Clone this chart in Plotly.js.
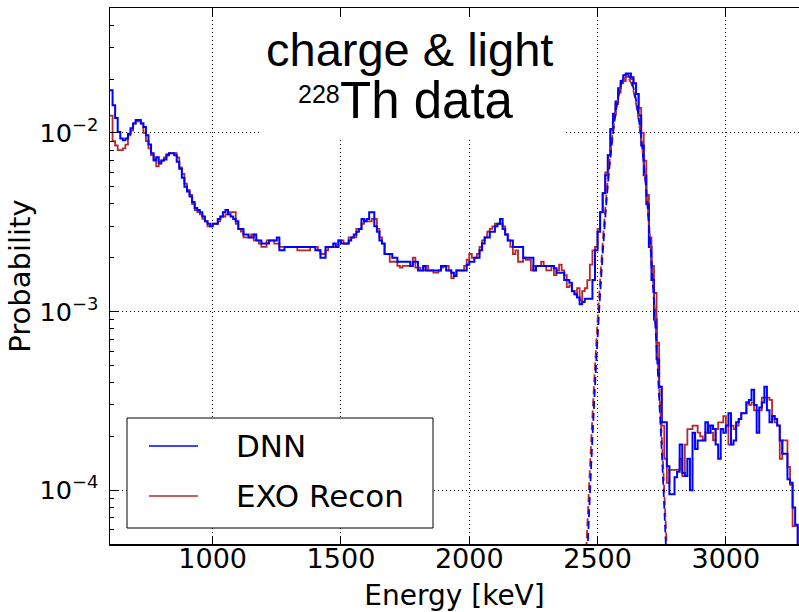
<!DOCTYPE html>
<html>
<head>
<meta charset="utf-8">
<script src="https://cdn.plot.ly/plotly-3.0.1.min.js"></script>
<style>
  html, body { margin: 0; padding: 0; background: #ffffff; }
  #chart { width: 799px; height: 612px; }
</style>
</head>
<body>
<div id="chart"></div>
<script>
// Energy histograms: 10 keV bins, first bin starts at 600 keV.
const BIN_START = 600;
const BIN_WIDTH = 10;

// DNN reconstruction, probability per bin (rows of 100 keV).
const dnnProb = [
  0.0173, 0.0143, 0.0121, 0.0101, 0.0093, 0.0091, 0.0093, 0.0099, 0.0106, 0.0113,
  0.0118, 0.0118, 0.0113, 0.0108, 0.0097, 0.0086, 0.0077, 0.0070, 0.0073, 0.0068,
  0.0070, 0.0071, 0.0075, 0.0077, 0.0077, 0.0075, 0.0069, 0.0063, 0.0056, 0.0050,
  0.0047, 0.0044, 0.0041, 0.0038, 0.0037, 0.0036, 0.0034, 0.0032, 0.0031, 0.0030,
  0.0031, 0.0031, 0.0033, 0.0034, 0.0036, 0.0037, 0.0035, 0.0034, 0.0033, 0.0032,
  0.0029, 0.0029, 0.0027, 0.0027, 0.0026, 0.0026, 0.0027, 0.0025, 0.0025, 0.0024,
  0.0024, 0.0024, 0.0025, 0.0025, 0.0025, 0.0026, 0.0022, 0.0022, 0.0023, 0.0023,
  0.0023, 0.0023, 0.0023, 0.0023, 0.0023, 0.0023, 0.0023, 0.0023, 0.0023, 0.0023,
  0.0022, 0.0022, 0.0020, 0.0020, 0.0023, 0.0023, 0.0023, 0.0024, 0.0023, 0.0025,
  0.0024, 0.0024, 0.0024, 0.0025, 0.0026, 0.0027, 0.0028, 0.0029, 0.0033, 0.0032,
  0.0033, 0.0036, 0.0036, 0.0030, 0.0028, 0.0025, 0.0024, 0.0021, 0.0021, 0.0021,
  0.0020, 0.0020, 0.0019, 0.0019, 0.0019, 0.0019, 0.0019, 0.0018, 0.0019, 0.0019,
  0.0017, 0.0017, 0.0018, 0.0017, 0.0017, 0.0017, 0.0017, 0.0017, 0.0017, 0.0018,
  0.0018, 0.0017, 0.0017, 0.00165, 0.00158, 0.0017, 0.0017, 0.0017, 0.0017, 0.00183,
  0.0019, 0.0019, 0.0020, 0.0020, 0.0022, 0.0024, 0.0026, 0.0026, 0.0028, 0.0028,
  0.0030, 0.0031, 0.0033, 0.0029, 0.0027, 0.0025, 0.0025, 0.0023, 0.0023, 0.0023,
  0.0023, 0.0020, 0.0020, 0.0020, 0.0020, 0.0017, 0.0018, 0.0018, 0.0018, 0.0018,
  0.0018, 0.0018, 0.0018, 0.00175, 0.00165, 0.00165, 0.00165, 0.0015, 0.0015, 0.00145,
  0.0013, 0.00125, 0.0012, 0.0011, 0.00113, 0.00118, 0.00118, 0.00118, 0.0015, 0.0022,
  0.0028, 0.0036, 0.0046, 0.0058, 0.0075, 0.0105, 0.0128, 0.0150, 0.0178, 0.0195,
  0.0210, 0.0215, 0.0215, 0.0205, 0.0189, 0.0165, 0.0125, 0.0085, 0.0058, 0.0040,
  0.0023, 0.0015, 0.0009, 0.00054, 0.00038, 0.00024, 0.00024, 0.000136, 0.000095, 0.000095,
  0.000118, 0.000127, 0.00018, 0.000125, 0.00012, 0.00015, 0.0001, 0.00021, 0.00017, 0.00019,
  0.00019, 0.00019, 0.00024, 0.00021, 0.00023, 0.00022, 0.00018, 0.00015, 0.00022, 0.00021,
  0.00023, 0.00027, 0.00018, 0.00019, 0.00024, 0.00025, 0.00027, 0.00027, 0.00031, 0.00032,
  0.000365, 0.0003, 0.00021, 0.00029, 0.00031, 0.00038, 0.00028, 0.00024, 0.00026, 0.00025,
  0.00023, 0.00019, 0.00016, 0.00016, 0.000115, 0.00011, 0.00008, 0.000064, 0.00004
];

// EXO standard reconstruction, probability per bin (rows of 100 keV).
const exoProb = [
  0.0125, 0.0090, 0.0085, 0.0080, 0.0080, 0.0082, 0.0086, 0.0097, 0.0103, 0.0113,
  0.0116, 0.0117, 0.0113, 0.0100, 0.0090, 0.0082, 0.0075, 0.0071, 0.0065, 0.0067,
  0.0070, 0.0073, 0.0076, 0.0077, 0.0077, 0.0077, 0.0073, 0.0064, 0.0059, 0.0052,
  0.0048, 0.0045, 0.0040, 0.0037, 0.0036, 0.0035, 0.0033, 0.0032, 0.0030, 0.0030,
  0.0031, 0.0031, 0.0032, 0.0034, 0.0034, 0.0035, 0.0036, 0.0036, 0.0036, 0.0031,
  0.0029, 0.0028, 0.0026, 0.0026, 0.0026, 0.0027, 0.0025, 0.0025, 0.0024, 0.0023,
  0.0023, 0.0025, 0.0025, 0.0025, 0.0024, 0.0024, 0.0023, 0.0023, 0.0023, 0.0023,
  0.0023, 0.0023, 0.0023, 0.0022, 0.0022, 0.0022, 0.0022, 0.0022, 0.0023, 0.0023,
  0.0023, 0.0022, 0.0021, 0.0021, 0.0022, 0.0023, 0.0023, 0.0023, 0.0023, 0.0025,
  0.0025, 0.0024, 0.0024, 0.0026, 0.0026, 0.0026, 0.0029, 0.0029, 0.0031, 0.0032,
  0.0032, 0.0032, 0.0033, 0.0033, 0.0029, 0.0026, 0.0024, 0.0021, 0.0021, 0.0019,
  0.0019, 0.0019, 0.0018, 0.00176, 0.0018, 0.0018, 0.0018, 0.0018, 0.0020, 0.00176,
  0.00176, 0.0017, 0.0017, 0.0018, 0.0017, 0.0017, 0.00165, 0.00165, 0.0017, 0.00176,
  0.0018, 0.0018, 0.0017, 0.00154, 0.00158, 0.0017, 0.0017, 0.0017, 0.0018, 0.00195,
  0.0021, 0.0020, 0.0020, 0.0021, 0.0023, 0.0025, 0.0026, 0.0028, 0.0029, 0.0030,
  0.0031, 0.0031, 0.0031, 0.0030, 0.0027, 0.0025, 0.0023, 0.0021, 0.0022, 0.0019,
  0.0019, 0.0020, 0.00195, 0.00195, 0.0017, 0.0018, 0.0018, 0.0018, 0.0019, 0.0018,
  0.0017, 0.0017, 0.0018, 0.0016, 0.0017, 0.00183, 0.0017, 0.0016, 0.00137, 0.0014,
  0.0013, 0.00125, 0.00135, 0.00116, 0.0013, 0.00135, 0.0015, 0.00183, 0.0022, 0.0023,
  0.0029, 0.0036, 0.0046, 0.0060, 0.0075, 0.0104, 0.0125, 0.0145, 0.0168, 0.0190,
  0.0195, 0.0206, 0.0206, 0.0200, 0.0190, 0.0165, 0.0138, 0.0100, 0.0070, 0.0045,
  0.0026, 0.0018, 0.00127, 0.00067, 0.00038, 0.00023, 0.00015, 0.00011, 0.00013, 0.00013,
  0.00013, 0.00013, 0.00015, 0.00012, 0.00018, 0.00022, 0.00022, 0.00023, 0.00023, 0.00021,
  0.0002, 0.00019, 0.00021, 0.00023, 0.00021, 0.00019, 0.00022, 0.00024, 0.00024, 0.00026,
  0.00023, 0.00018, 0.00023, 0.00022, 0.00023, 0.00025, 0.00027, 0.00027, 0.00031, 0.0003,
  0.00031, 0.00028, 0.00028, 0.00028, 0.00033, 0.00033, 0.00033, 0.00032, 0.00026, 0.00024,
  0.00023, 0.00015, 0.00019, 0.00019, 0.000135, 0.000107, 0.000063, 0.000063, 0.00004
];

// Peak fits around the 2615 keV line (dashed curves).
const dnnFitEnergy = [2455, 2462, 2470, 2480, 2490, 2500, 2510, 2520, 2530, 2540, 2550, 2560, 2570, 2580, 2590, 2600, 2614,
                      2630, 2640, 2650, 2660, 2670, 2680, 2690, 2700, 2710, 2720, 2730, 2740, 2750, 2760, 2766, 2773];
const dnnFitProb = [2.8e-5, 5.0e-5, 9.3e-5, 1.94e-4, 3.8e-4, 7.1e-4, 1.25e-3, 2.1e-3, 3.36e-3, 5.08e-3, 7.3e-3, 9.9e-3, 0.0128, 0.0157, 0.0183, 0.0202, 0.0213,
                    0.0199, 0.0178, 0.0152, 0.0122, 0.0094, 6.8e-3, 4.7e-3, 3.07e-3, 1.91e-3, 1.12e-3, 6.3e-4, 3.3e-4, 1.68e-4, 8.0e-5, 5.0e-5, 2.8e-5];

const exoFitEnergy = [2450, 2460, 2470, 2480, 2490, 2500, 2510, 2520, 2530, 2540, 2550, 2560, 2570, 2580, 2590, 2600, 2613,
                      2630, 2640, 2650, 2660, 2670, 2680, 2690, 2700, 2710, 2720, 2730, 2740, 2750, 2760, 2770, 2780];
const exoFitProb = [2.9e-5, 6.3e-5, 1.31e-4, 2.6e-4, 4.9e-4, 8.8e-4, 1.49e-3, 2.42e-3, 3.74e-3, 5.5e-3, 7.7e-3, 0.0102, 0.0130, 0.0157, 0.0180, 0.0197, 0.0205,
                    0.0191, 0.0171, 0.0146, 0.0119, 9.2e-3, 6.8e-3, 4.74e-3, 3.16e-3, 2.0e-3, 1.21e-3, 7.0e-4, 3.8e-4, 2.0e-4, 9.9e-5, 4.7e-5, 2.1e-5];

const xTickVals = [1000, 1500, 2000, 2500, 3000];
const seriesNames = ['DNN', 'EXO Recon'];

// Step-histogram coordinates: one point per lower bin edge plus the closing edge.
function stepXY(values) {
  const x = values.map((_, i) => BIN_START + i * BIN_WIDTH);
  x.push(BIN_START + values.length * BIN_WIDTH);
  const y = values.slice();
  y.push(values[values.length - 1]);
  return { x, y };
}

const BLUE = '#0000ff';
const RED = '#b5282b';

const dnnStep = stepXY(dnnProb);
const exoStep = stepXY(exoProb);

const traces = [
  {
    type: 'scatter', mode: 'lines', name: seriesNames[1],
    x: exoStep.x, y: exoStep.y,
    line: { shape: 'hv', color: RED, width: 1.8 }
  },
  {
    type: 'scatter', mode: 'lines', name: seriesNames[0],
    x: dnnStep.x, y: dnnStep.y,
    line: { shape: 'hv', color: BLUE, width: 2 }
  },
  {
    type: 'scatter', mode: 'lines', name: seriesNames[1] + ' fit',
    x: exoFitEnergy, y: exoFitProb,
    line: { shape: 'spline', color: RED, width: 1.8, dash: '8px,4px' }
  },
  {
    type: 'scatter', mode: 'lines', name: seriesNames[0] + ' fit',
    x: dnnFitEnergy, y: dnnFitProb,
    line: { shape: 'spline', color: BLUE, width: 1.8, dash: '8px,4px' }
  }
];

const TITLE_FONT = { family: 'Liberation Sans, Arial, sans-serif', color: '#000000' };
const LABEL_FAMILY = 'DejaVu Sans, sans-serif';

// Plot area in pixels: x 110..799, y 8..544
const PX = (p) => (p - 110) / 689;
const PY = (p) => (544 - p) / 536;

// Legend box drawn in paper space
const legendBox = { x0: 127, x1: 433, y0: 418, y1: 528 };
const legendRows = [
  { label: seriesNames[0], color: BLUE, width: 1.6, y: 446 },
  { label: seriesNames[1], color: RED, width: 1.4, y: 496 }
];

const shapes = [
  {
    type: 'rect', xref: 'paper', yref: 'paper', layer: 'above',
    x0: PX(262), x1: PX(563), y0: PY(138), y1: PY(18),
    fillcolor: '#ffffff', line: { width: 0 }
  },
  {
    type: 'rect', xref: 'paper', yref: 'paper', layer: 'above',
    x0: PX(legendBox.x0), x1: PX(legendBox.x1), y0: PY(legendBox.y1), y1: PY(legendBox.y0),
    fillcolor: '#ffffff', line: { color: '#000000', width: 1 }
  }
];
const annotations = [
  {
    xref: 'paper', yref: 'paper', x: PX(409), y: PY(50),
    xanchor: 'center', yanchor: 'middle', showarrow: false,
    text: 'charge &amp; light', font: Object.assign({ size: 47 }, TITLE_FONT)
  },
  {
    xref: 'paper', yref: 'paper', x: PX(338), y: PY(100),
    xanchor: 'left', yanchor: 'middle', showarrow: false,
    text: 'Th data', font: Object.assign({ size: 51 }, TITLE_FONT)
  },
  {
    xref: 'paper', yref: 'paper', x: PX(342), y: PY(94),
    xanchor: 'right', yanchor: 'middle', showarrow: false,
    text: '228', font: Object.assign({ size: 25 }, TITLE_FONT)
  }
];
legendRows.forEach((row) => {
  shapes.push({
    type: 'line', xref: 'paper', yref: 'paper', layer: 'above',
    x0: PX(149), x1: PX(198), y0: PY(row.y), y1: PY(row.y),
    line: { color: row.color, width: row.width }
  });
  annotations.push({
    xref: 'paper', yref: 'paper', x: PX(234), y: PY(row.y),
    xanchor: 'left', yanchor: 'middle', showarrow: false,
    text: row.label, font: { family: LABEL_FAMILY, size: 31, color: '#000000' }
  });
});

const layout = {
  width: 799,
  height: 612,
  margin: { l: 110, r: 0, t: 8, b: 68, pad: 0 },
  paper_bgcolor: '#ffffff',
  plot_bgcolor: '#ffffff',
  showlegend: false,
  xaxis: {
    range: [600, 3285],
    tickmode: 'array', tickvals: xTickVals,
    ticks: 'inside', ticklen: 8, tickwidth: 1, tickcolor: '#000000',
    showline: true, linecolor: '#000000', linewidth: 1.5, mirror: 'ticks',
    showgrid: true, gridcolor: '#000000', gridwidth: 1, griddash: '1px,3px',
    zeroline: false,
    tickfont: { family: LABEL_FAMILY, size: 27, color: '#000000' },
    ticklabelstandoff: -10,
    title: { text: 'Energy [keV]', font: { family: LABEL_FAMILY, size: 28, color: '#000000' }, standoff: 20 }
  },
  yaxis: {
    type: 'log',
    range: [Math.log10(5e-5), Math.log10(5e-2)],
    dtick: 1, exponentformat: 'power',
    ticks: 'inside', ticklen: 8, tickwidth: 1, tickcolor: '#000000',
    minor: { dtick: 'D1', ticks: 'inside', ticklen: 4, tickwidth: 1, tickcolor: '#000000', showgrid: false },
    showline: true, linecolor: '#000000', linewidth: 1.5, mirror: false,
    showgrid: true, gridcolor: '#000000', gridwidth: 1, griddash: '1px,3px',
    zeroline: false,
    tickfont: { family: LABEL_FAMILY, size: 20.5, color: '#000000' },
    ticklabelstandoff: 6,
    title: { text: 'Probability', font: { family: LABEL_FAMILY, size: 29, color: '#000000' }, standoff: 0 }
  },
  shapes: shapes,
  annotations: annotations
};

Plotly.newPlot('chart', traces, layout, { displayModeBar: false, staticPlot: true });
</script>
</body>
</html>
